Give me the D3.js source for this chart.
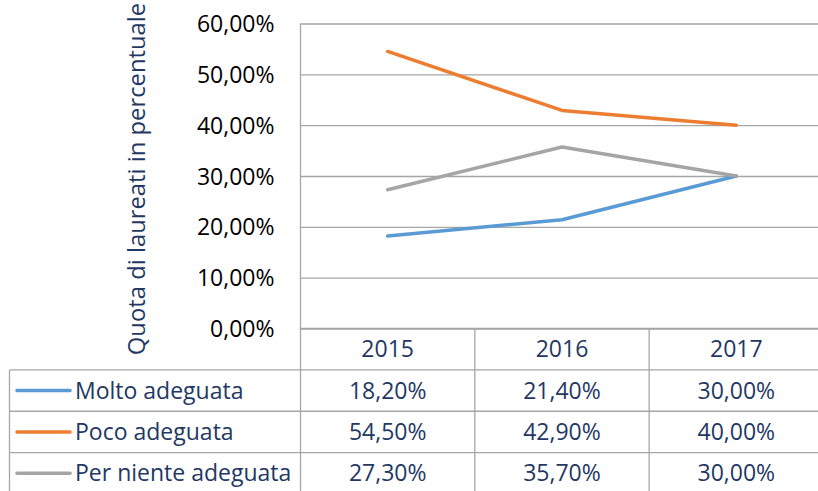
<!DOCTYPE html>
<html lang="it">
<head>
  <meta charset="UTF-8">
  <title>Quota di laureati</title>
  <script src="https://d3js.org/d3.v7.min.js"></script>
  <style>
    body { margin: 0; background: #fff; }
    text { font-family: "Open Sans", sans-serif; }
  </style>
</head>
<body>
  <div id="chart"></div>

  <script>
  // data
  const years = ["2015", "2016", "2017"];
  const seriesNames = ["Molto adeguata", "Poco adeguata", "Per niente adeguata"];
  const moltoAdeguata = [0.182, 0.214, 0.300];
  const pocoAdeguata = [0.545, 0.429, 0.400];
  const perNienteAdeguata = [0.273, 0.357, 0.300];
  const yTicks = [0, 0.1, 0.2, 0.3, 0.4, 0.5, 0.6];
  const colors = ["#5B9BD5", "#ED7D31", "#A5A5A5"];

  const series = seriesNames.map((name, i) => ({
    name: name,
    values: [moltoAdeguata, pocoAdeguata, perNienteAdeguata][i],
    color: colors[i]
  }));

  const W = 818, H = 491;
  const navy = "#1F3864";
  const gridColor = "#A6A6A6";
  const fs = 23;

  const it = d3.formatLocale({ decimal: ",", thousands: ".", grouping: [3], currency: ["", " €"] });
  const pct = it.format(".2%");

  const svg = d3.select("#chart").append("svg")
    .attr("width", W).attr("height", H);

  const x = d3.scaleBand().domain(years).range([300.5, 823.5]).padding(0);
  const y = d3.scaleLinear().domain([0, 0.6]).range([328.5, 23.5]);

  // gridlines + tick labels
  const yAxis = d3.axisLeft(y)
    .tickValues(yTicks)
    .tickFormat(pct)
    .tickSize(-(W - 300))
    .tickPadding(26);

  const gy = svg.append("g")
    .attr("transform", "translate(300.5,0)")
    .call(yAxis);
  gy.select(".domain").remove();
  gy.selectAll(".tick line").attr("stroke", gridColor).attr("stroke-width", 1.3);
  gy.selectAll(".tick text")
    .attr("fill", "#000")
    .attr("font-size", fs)
    .attr("dy", "0.35em");

  // y axis title
  svg.append("text")
    .attr("transform", "translate(145," + 179 + ") rotate(-90)")
    .attr("text-anchor", "middle")
    .attr("fill", navy)
    .attr("font-size", 23.8)
    .text("Quota di laureati in percentuale");

  // data table grid
  const rowY = d3.scaleBand().domain(["header"].concat(seriesNames)).range([328.5, 494]);
  const gridG = svg.append("g")
    .attr("stroke", gridColor).attr("stroke-width", 1.3);

  // horizontal lines
  gridG.append("line")
    .attr("x1", 300.5).attr("x2", W)
    .attr("y1", rowY("header")).attr("y2", rowY("header"));
  seriesNames.forEach(n => {
    gridG.append("line")
      .attr("x1", 9.5).attr("x2", W)
      .attr("y1", rowY(n)).attr("y2", rowY(n));
  });
  // vertical lines
  gridG.append("line")
    .attr("x1", 300.5).attr("x2", 300.5)
    .attr("y1", y(0.6)).attr("y2", H);
  gridG.append("line")
    .attr("x1", 9.5).attr("x2", 9.5)
    .attr("y1", rowY(seriesNames[0])).attr("y2", H);
  years.slice(1).forEach(yr => {
    gridG.append("line")
      .attr("x1", x(yr)).attr("x2", x(yr))
      .attr("y1", rowY("header")).attr("y2", H);
  });

  // header years
  svg.append("g").selectAll("text")
    .data(years).enter().append("text")
    .attr("x", d => x(d) + x.bandwidth() / 2)
    .attr("y", rowY("header") + rowY.bandwidth() / 2)
    .attr("dy", "0.35em")
    .attr("text-anchor", "middle")
    .attr("fill", navy)
    .attr("font-size", fs)
    .text(d => d);

  // table rows
  const rows = svg.append("g").selectAll("g")
    .data(series).enter().append("g")
    .attr("transform", d => "translate(0," + (rowY(d.name) + rowY.bandwidth() / 2) + ")");

  rows.append("line")
    .attr("x1", 17).attr("x2", 70)
    .attr("y1", 0).attr("y2", 0)
    .attr("stroke", d => d.color)
    .attr("stroke-width", 3.5)
    .attr("stroke-linecap", "round");

  rows.append("text")
    .attr("x", 75).attr("dy", "0.35em")
    .attr("fill", navy)
    .attr("font-size", fs)
    .text(d => d.name);

  rows.selectAll("text.val")
    .data(d => d.values.map((v, i) => ({ v: v, yr: years[i] })))
    .enter().append("text")
    .attr("class", "val")
    .attr("x", d => x(d.yr) + x.bandwidth() / 2)
    .attr("dy", "0.35em")
    .attr("text-anchor", "middle")
    .attr("fill", navy)
    .attr("font-size", fs)
    .text(d => pct(d.v));

  // lines
  const line = d3.line()
    .x((d, i) => x(years[i]) + x.bandwidth() / 2)
    .y(d => y(d));

  svg.append("g").selectAll("path")
    .data(series).enter().append("path")
    .attr("d", d => line(d.values))
    .attr("fill", "none")
    .attr("stroke", d => d.color)
    .attr("stroke-width", 3.5)
    .attr("stroke-linecap", "round")
    .attr("stroke-linejoin", "round");
  </script>
</body>
</html>
